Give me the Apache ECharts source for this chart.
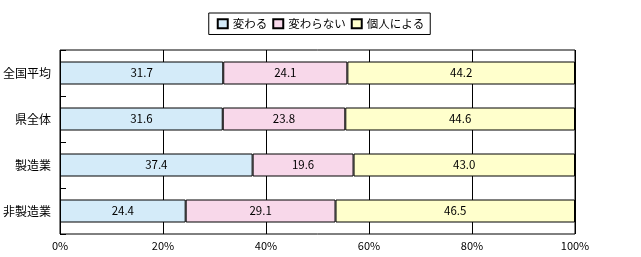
<!DOCTYPE html>
<html><head><meta charset="utf-8">
<script src="https://cdn.jsdelivr.net/npm/echarts@6/dist/echarts.min.js"></script>
<style>html,body{margin:0;padding:0;background:#fff}#c{width:641px;height:257px}</style>
</head><body><div id="c"></div>
<script>
const categories = ['全国平均', '県全体', '製造業', '非製造業'];
const seriesNames = ['変わる', '変わらない', '個人による'];
const kawaru = [31.7, 31.6, 37.4, 24.4];
const kawaranai = [24.1, 23.8, 19.6, 29.1];
const kojin = [44.2, 44.6, 43.0, 46.5];
const xTicks = [0, 20, 40, 60, 80, 100];
const colors = ['#d4ebf9', '#f8d8ea', '#ffffcc'];
const font = '"Noto Sans CJK JP", sans-serif';
const chart = echarts.init(document.getElementById('c'));
const mk = (name, data, i) => ({
  name, type: 'bar', stack: 'a', data, barWidth: '50%',
  itemStyle: { color: colors[i], borderColor: '#000', borderWidth: 1 },
  label: { show: true, position: 'inside', color: '#000', fontSize: 11.5, fontFamily: font,
    formatter: p => p.value.toFixed(1) }
});
chart.setOption({
  animation: false,
  legend: {
    top: 13, left: 'center', itemWidth: 10, itemHeight: 9, itemGap: 5,
    borderColor: '#000', borderWidth: 1, padding: [5, 6, 5, 8],
    textStyle: { fontSize: 11.5, fontFamily: font, color: '#000' },
    data: seriesNames.map(n => ({ name: n, icon: 'rect' }))
  },
  grid: { left: 60, right: 66, top: 50, bottom: 23, show: true, borderColor: '#000', borderWidth: 1 },
  xAxis: {
    type: 'value', min: xTicks[0], max: xTicks[xTicks.length - 1], interval: 20,
    axisLine: { show: false }, axisTick: { show: false },
    splitLine: { lineStyle: { color: '#000' } },
    axisLabel: { formatter: '{value}%', fontSize: 11, fontFamily: font, color: '#000', margin: 6 }
  },
  yAxis: {
    type: 'category', data: categories, inverse: true,
    axisLine: { show: false },
    axisTick: { show: true, inside: true, length: 6, lineStyle: { color: '#000' } },
    axisLabel: { fontSize: 12, fontFamily: font, color: '#000', margin: 9 }
  },
  series: [mk(seriesNames[0], kawaru, 0), mk(seriesNames[1], kawaranai, 1), mk(seriesNames[2], kojin, 2)]
});
</script></body></html>
